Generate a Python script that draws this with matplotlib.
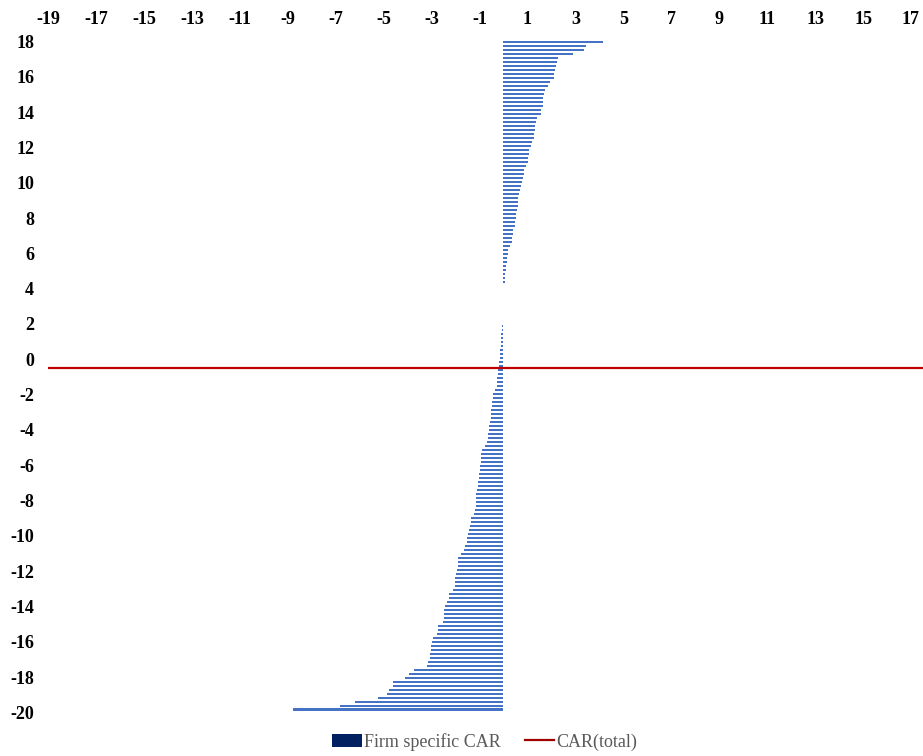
import numpy as np
import matplotlib
matplotlib.use("Agg")
import matplotlib.pyplot as plt
from matplotlib.patches import Patch
from matplotlib.lines import Line2D

plt.rcParams["axes.unicode_minus"] = False

# Firm specific CAR, sorted from largest positive to largest negative
positive_car = [4.17, 3.44, 3.35, 2.88, 2.29, 2.25, 2.19, 2.14, 2.11, 2.10,
                1.92, 1.85, 1.74, 1.71, 1.65, 1.64, 1.63, 1.58, 1.57, 1.38,
                1.36, 1.32, 1.31, 1.29, 1.28, 1.21, 1.14, 1.08, 1.06, 1.04,
                1.03, 0.92, 0.86, 0.85, 0.82, 0.79, 0.71, 0.69, 0.63, 0.62,
                0.61, 0.60, 0.56, 0.54, 0.53, 0.50, 0.49, 0.39, 0.38, 0.37,
                0.35, 0.29, 0.19, 0.19, 0.15, 0.13, 0.12, 0.12, 0.08, 0.08,
                0.07]
zero_car = [0.0] * 10
negative_car = [-0.06, -0.06, -0.09, -0.12, -0.12, -0.12, -0.13, -0.16, -0.16, -0.20,
                -0.20, -0.23, -0.24, -0.27, -0.28, -0.29, -0.35, -0.44, -0.45, -0.48,
                -0.48, -0.50, -0.51, -0.53, -0.56, -0.60, -0.60, -0.65, -0.65, -0.67,
                -0.77, -0.88, -0.92, -0.93, -0.93, -0.98, -0.98, -1.01, -1.02, -1.05,
                -1.05, -1.10, -1.13, -1.15, -1.15, -1.16, -1.19, -1.23, -1.35, -1.37,
                -1.38, -1.42, -1.48, -1.51, -1.51, -1.59, -1.66, -1.77, -1.88, -1.91,
                -1.91, -1.92, -1.99, -2.01, -2.01, -2.02, -2.10, -2.28, -2.28, -2.37,
                -2.45, -2.47, -2.47, -2.49, -2.53, -2.73, -2.74, -2.77, -2.92, -2.97,
                -3.01, -3.02, -3.05, -3.08, -3.15, -3.19, -3.73, -3.94, -4.10, -4.60,
                -4.61, -4.76, -4.87, -5.23, -6.20, -6.81, -8.80]
car_total = -0.52

x_ticks = list(range(-19, 18, 2))
y_ticks = list(range(-20, 19, 2))

firm_car = positive_car + zero_car + negative_car
n = len(firm_car)
y_pos = np.linspace(17.95, -19.84, n)
bar_h = (y_pos[0] - y_pos[1]) * 0.6

fig = plt.figure(figsize=(9.23, 7.56), dpi=100)
ax = fig.add_axes([48 / 923, 0.0505, 1 - 48 / 923, 0.9534 - 0.0505])

ax.barh(y_pos, firm_car, height=bar_h, color="#4472C4", linewidth=0)
ax.axhline(car_total, color="#C00000", linewidth=1.6)

ax.set_xlim(-19, 17.5)
ax.set_ylim(-20.3, 18.35)
ax.set_xticks(x_ticks)
ax.set_yticks(y_ticks)
ax.xaxis.tick_top()
ax.tick_params(length=0)
ax.tick_params(axis="x", pad=5)
ax.tick_params(axis="y", pad=10)
for lab in ax.get_xticklabels() + ax.get_yticklabels():
    lab.set_fontfamily("Liberation Serif")
    lab.set_fontweight("bold")
    lab.set_fontsize(13)
for s in ax.spines.values():
    s.set_visible(False)

handles = [Patch(facecolor="#002060", edgecolor="none"),
           Line2D([0], [0], color="#A00000", linewidth=1.6)]
fig.legend(handles, ["Firm specific CAR", "CAR(total)"], loc="center",
           bbox_to_anchor=(0.525, 0.019), ncol=2, frameon=False,
           prop={"family": "Liberation Serif", "size": 13},
           labelcolor="#595959", handlelength=1.65, handletextpad=0.1,
           columnspacing=1.35)

fig.savefig("out.png", dpi=100)
